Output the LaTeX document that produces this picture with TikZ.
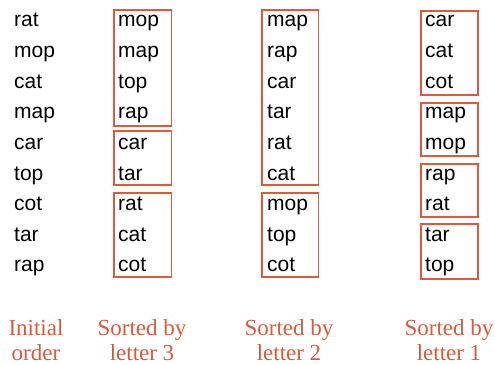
\documentclass[tikz,border=0pt]{standalone}
\usepackage{fontspec}
\setmainfont{Liberation Serif}
\newfontfamily\wordfont{Liberation Sans}
\definecolor{boxred}{HTML}{DD5A3A}
\definecolor{labred}{HTML}{D95A3B}
\begin{document}
\begin{tikzpicture}[x=1pt,y=-1pt,
  word/.style={anchor=base west,inner sep=0pt,font=\wordfont\fontsize{21}{21}\selectfont},
  grp/.style={draw=boxred,line width=1.8pt},
  lab/.style={anchor=base,inner sep=0pt,text=labred,align=center,font=\fontsize{23}{24.5}\selectfont}]
\useasboundingbox (0,0) rectangle (495,364);
% column 1
\foreach \w [count=\i from 0] in {rat,mop,cat,map,car,top,cot,tar,rap}
  \node[word] (a\i) at (14,27+30.6*\i) {\w};
% column 2
\foreach \w [count=\i from 0] in {mop,map,top,rap,car,tar,rat,cat,cot}
  \node[word] (b\i) at (118,27+30.6*\i) {\w};
% column 3
\foreach \w [count=\i from 0] in {map,rap,car,tar,rat,cat,mop,top,cot}
  \node[word] (c\i) at (267,27+30.6*\i) {\w};
% column 4
\foreach \w [count=\i from 0] in {car,cat,cot,map,mop,rap,rat,tar,top}
  \node[word] (d\i) at (425,27+30.6*\i) {\w};
% boxes
\draw[grp] (114,10) rectangle (171.5,126);
\draw[grp] (114,131) rectangle (171.5,185);
\draw[grp] (114,193) rectangle (171.5,277);
\draw[grp] (262,10) rectangle (318.5,185);
\draw[grp] (262,193) rectangle (318.5,277);
\draw[grp] (421,11) rectangle (478,95);
\draw[grp] (421,103) rectangle (478,156);
\draw[grp] (421,164) rectangle (478,217);
\draw[grp] (421,224) rectangle (478,279);
% labels
\node[lab] (l1) at (36,360) {Initial\\order};
\node[lab] (l2) at (142,360) {Sorted by\\letter 3};
\node[lab] (l3) at (289,360) {Sorted by\\letter 2};
\node[lab] (l4) at (449,360) {Sorted by\\letter 1};
\end{tikzpicture}
\end{document}
